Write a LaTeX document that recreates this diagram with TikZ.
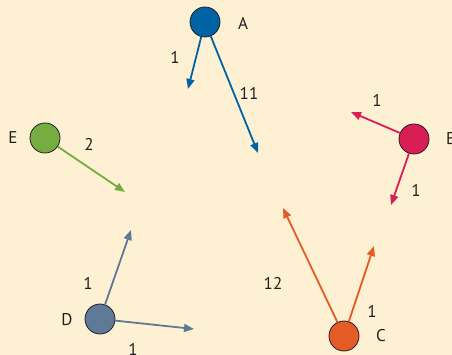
\documentclass[tikz,border=0pt]{standalone}
\usepackage{fontspec}
\setmainfont{PT Sans}
\usetikzlibrary{arrows.meta}
\definecolor{bg}{RGB}{253,240,211}
\definecolor{txt}{RGB}{35,31,32}
\definecolor{cA}{RGB}{0,99,166}
\definecolor{cB}{RGB}{216,30,85}
\definecolor{cE}{RGB}{118,173,65}
\definecolor{cD}{RGB}{95,122,150}
\definecolor{cC}{RGB}{227,91,37}
\tikzset{
  ball/.style={circle, draw=txt, line width=0.8pt, minimum size=30pt, inner sep=0pt},
  lbl/.style={text=txt, font=\fontsize{17}{19}\selectfont, inner sep=0pt},
  arr/.style={line width=1.8pt, -{Triangle[length=10pt,width=8pt]}, shorten >=0pt},
}
\begin{document}
\begin{tikzpicture}[x=1pt,y=-1pt]
\path[fill=bg] (0,0) rectangle (452,355);
\useasboundingbox (0,0) rectangle (452,355);
% nodes
\node[ball, fill=cA] (A) at (205,22) {};
\node[ball, fill=cB] (B) at (414,139) {};
\node[ball, fill=cE] (E) at (45,138) {};
\node[ball, fill=cD] (D) at (100,319) {};
\node[ball, fill=cC] (C) at (344,336) {};
% names
\node[lbl] (nA) at (243,23) {A};
\node[lbl, anchor=west] (nB) at (446,139) {B};
\node[lbl] (nE) at (13,138) {E};
\node[lbl] (nD) at (67,320) {D};
\node[lbl] (nC) at (381,336) {C};
% tips
\coordinate (a1) at (188,89);
\coordinate (a2) at (258,153);
\coordinate (b1) at (351,112);
\coordinate (b2) at (391,205);
\coordinate (e1) at (125,192);
\coordinate (d1) at (131,230);
\coordinate (d2) at (194,329);
\coordinate (c1) at (283,208);
\coordinate (c2) at (374,246);
% arrows
\draw[arr, cA] (A) -- (a1);
\draw[arr, cA] (A) -- (a2);
\draw[arr, cB] (B) -- (b1);
\draw[arr, cB] (B) -- (b2);
\draw[arr, cE] (E) -- (e1);
\draw[arr, cD] (D) -- (d1);
\draw[arr, cD] (D) -- (d2);
\draw[arr, cC] (C) -- (c1);
\draw[arr, cC] (C) -- (c2);
% weights
\node[lbl] (wa1) at (175,57) {1};
\node[lbl] (wa2) at (249,93) {11};
\node[lbl] (wb1) at (377,100) {1};
\node[lbl] (wb2) at (416,190) {1};
\node[lbl] (we1) at (89,144) {2};
\node[lbl] (wd1) at (88,283) {1};
\node[lbl] (wd2) at (133,349) {1};
\node[lbl] (wc1) at (273,283) {12};
\node[lbl] (wc2) at (372,311) {1};
\end{tikzpicture}
\end{document}
